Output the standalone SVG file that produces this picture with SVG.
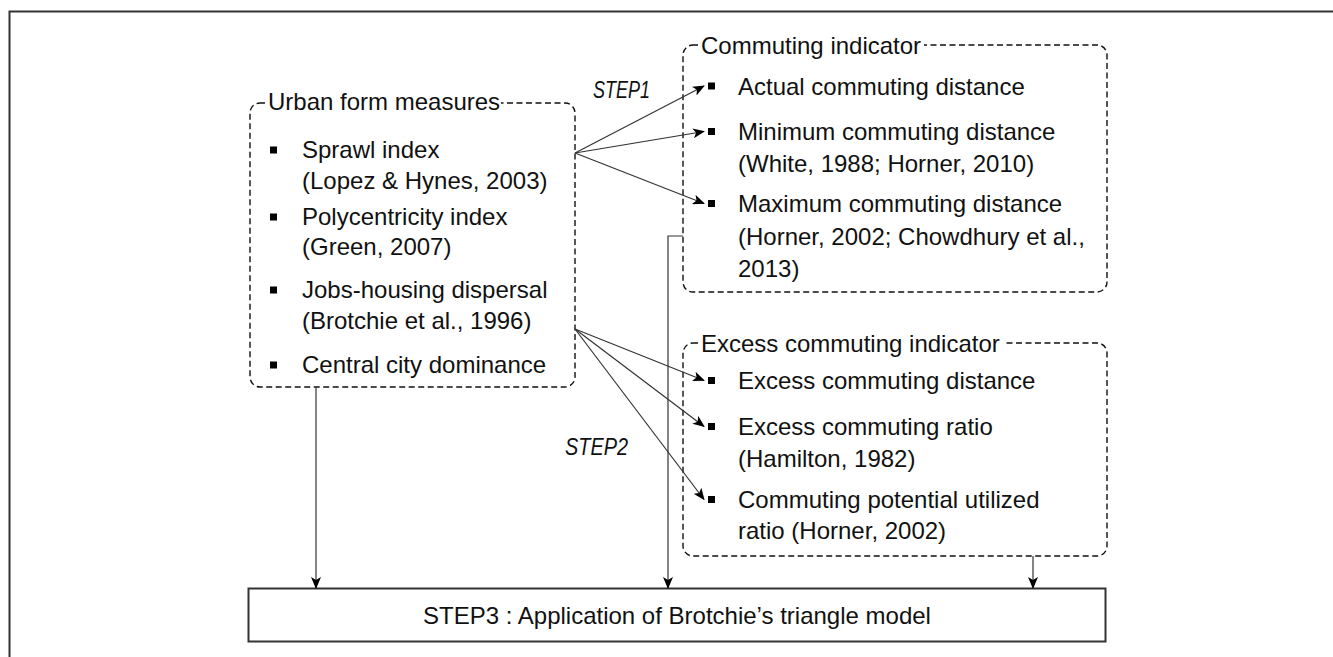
<svg xmlns="http://www.w3.org/2000/svg" width="1333" height="657" viewBox="0 0 1333 657">
  <defs>
    <marker id="arr" viewBox="0 0 12 10" refX="11" refY="5" markerWidth="12" markerHeight="10" markerUnits="userSpaceOnUse" orient="auto">
      <path d="M0,0 L12,5 L0,10 L3,5 z" fill="#000"/>
    </marker>
    <style>
      .t { font-family: "Liberation Sans", Arial, sans-serif; font-size: 24px; fill: #111; }
      .it { font-family: "Liberation Sans", Arial, sans-serif; font-size: 24px; font-style: italic; fill: #111; }
      .dash { fill: none; stroke: #111; stroke-width: 1.4; stroke-dasharray: 6 3.5; }
      .mask { fill: #fff; stroke: none; }
      .b { fill: #000; }
      .conn { fill: none; stroke: #333; stroke-width: 1.2; }
    </style>
  </defs>
  <rect x="0" y="0" width="1333" height="657" fill="#fff"/>
  <rect x="9.5" y="11.5" width="1400" height="700" fill="none" stroke="#333" stroke-width="2"/>

  <g id="urban-form">
    <rect class="dash" x="250" y="103" width="325" height="284" rx="10"/>
    <rect class="mask" x="265" y="92" width="236" height="22"/>
    <text class="t" x="268" y="110">Urban form measures</text>
    <rect class="b" x="270" y="146.5" width="7" height="7"/>
    <text class="t" x="302" y="158">Sprawl index</text>
    <text class="t" x="302" y="189">(Lopez &amp; Hynes, 2003)</text>
    <rect class="b" x="270" y="213.5" width="7" height="7"/>
    <text class="t" x="302" y="225">Polycentricity index</text>
    <text class="t" x="302" y="255">(Green, 2007)</text>
    <rect class="b" x="270" y="286.5" width="7" height="7"/>
    <text class="t" x="302" y="298">Jobs-housing dispersal</text>
    <text class="t" x="302" y="329">(Brotchie et al., 1996)</text>
    <rect class="b" x="270" y="361.5" width="7" height="7"/>
    <text class="t" x="302" y="373">Central city dominance</text>
  </g>

  <g id="commuting-indicator">
    <rect class="dash" x="683" y="45" width="424" height="247" rx="10"/>
    <rect class="mask" x="698" y="34" width="226" height="22"/>
    <text class="t" x="701" y="54">Commuting indicator</text>
    <rect class="b" x="708" y="82.5" width="7" height="7"/>
    <text class="t" x="738" y="94.5">Actual commuting distance</text>
    <rect class="b" x="708" y="128" width="7" height="7"/>
    <text class="t" x="738" y="140">Minimum commuting distance</text>
    <text class="t" x="738" y="172">(White, 1988; Horner, 2010)</text>
    <rect class="b" x="708" y="200" width="7" height="7"/>
    <text class="t" x="738" y="212">Maximum commuting distance</text>
    <text class="t" x="738" y="244.5">(Horner, 2002; Chowdhury et al.,</text>
    <text class="t" x="738" y="276.5">2013)</text>
  </g>

  <g id="excess-commuting-indicator">
    <rect class="dash" x="683" y="343" width="424" height="213" rx="10"/>
    <rect class="mask" x="698" y="332" width="305" height="22"/>
    <text class="t" x="701" y="351.5">Excess commuting indicator</text>
    <rect class="b" x="708" y="377" width="7" height="7"/>
    <text class="t" x="738" y="389">Excess commuting distance</text>
    <rect class="b" x="708" y="423" width="7" height="7"/>
    <text class="t" x="738" y="435">Excess commuting ratio</text>
    <text class="t" x="738" y="467">(Hamilton, 1982)</text>
    <rect class="b" x="708" y="496" width="7" height="7"/>
    <text class="t" x="738" y="508">Commuting potential utilized</text>
    <text class="t" x="738" y="539">ratio (Horner, 2002)</text>
  </g>

  <g id="step3">
    <rect x="248.5" y="588.5" width="857" height="53" fill="#fff" stroke="#333" stroke-width="2"/>
    <text class="t" x="677" y="624" text-anchor="middle">STEP3 : Application of Brotchie’s triangle model</text>
  </g>

  <g id="labels">
    <text class="it" x="593" y="98" textLength="57" lengthAdjust="spacingAndGlyphs">STEP1</text>
    <text class="it" x="565" y="455" textLength="63" lengthAdjust="spacingAndGlyphs">STEP2</text>
  </g>

  <g id="connectors">
    <line class="conn" x1="575" y1="153" x2="704" y2="86" marker-end="url(#arr)"/>
    <line class="conn" x1="575" y1="153" x2="704" y2="131.5" marker-end="url(#arr)"/>
    <line class="conn" x1="575" y1="153" x2="704" y2="203.5" marker-end="url(#arr)"/>
    <line class="conn" x1="575" y1="329" x2="704" y2="380.5" marker-end="url(#arr)"/>
    <line class="conn" x1="575" y1="329" x2="704" y2="426.5" marker-end="url(#arr)"/>
    <line class="conn" x1="575" y1="329" x2="704" y2="499.5" marker-end="url(#arr)"/>
    <line class="conn" x1="316" y1="387" x2="316" y2="588" marker-end="url(#arr)"/>
    <path class="conn" d="M683,236 H668 V588" marker-end="url(#arr)"/>
    <line class="conn" x1="1033" y1="556" x2="1033" y2="588" marker-end="url(#arr)"/>
  </g>
</svg>
